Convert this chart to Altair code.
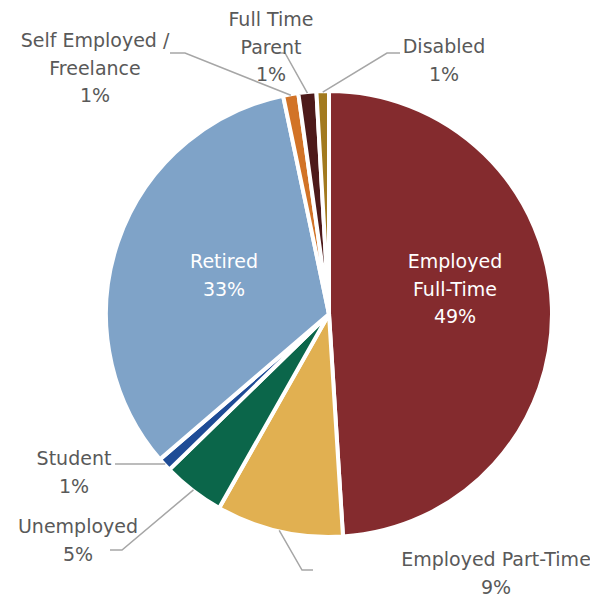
import math
import altair as alt
import pandas as pd

categories = ["Employed Full-Time", "Employed Part-Time", "Unemployed", "Student",
              "Retired", "Self Employed / Freelance", "Full Time Parent", "Disabled"]
values = [49.0, 9.2, 4.5, 1.0, 33.0, 1.1, 1.3, 0.9]
label_texts = ["Employed\nFull-Time\n49%", "Employed Part-Time\n9%", "Unemployed\n5%",
               "Student\n1%", "Retired\n33%", "Self Employed /\nFreelance\n1%",
               "Full Time\nParent\n1%", "Disabled\n1%"]
colors = ["#842B2E", "#E1B051", "#0B664A", "#1F4C96", "#7FA3C8", "#D27327", "#4D1A1A", "#A27A1E"]

# layout (pixels in chart coordinates; label y = first line centre)
W, H = 582, 591
CX, CY, R = 321, 306, 223
label_pos = [(447, 254), (488, 552), (70, 519), (66, 451), (216, 254),
             (87, 33), (263, 12), (436, 39)]
label_color = ["white", "#595959", "#595959", "#595959", "white", "#595959", "#595959", "#595959"]
leader_tail = {
    1: [(294, 562), (305, 562)],
    2: [(114, 542), (102, 542)],
    3: [(107, 456)],
    5: [(177, 45), (162, 45)],
    6: [(277, 45), (267, 45)],
    7: [(379, 45), (392, 45)],
}

df = pd.DataFrame({"category": categories, "value": values, "order": range(len(categories))})

total = sum(values)
cum = 0
mids = []
for v in values:
    mids.append((cum + v / 2) / total * 2 * math.pi)
    cum += v

rows = []
for i, pts in leader_tail.items():
    a = mids[i]
    sx = CX + (R - 1) * math.sin(a)
    sy = CY - (R - 1) * math.cos(a)
    allpts = [(sx, sy)] + pts
    for k, (x, y) in enumerate(allpts):
        rows.append({"line": categories[i], "k": k, "px": x, "py": y})
lines_df = pd.DataFrame(rows)

lab_df = pd.DataFrame({
    "text": label_texts,
    "px": [p[0] for p in label_pos],
    "py": [p[1] for p in label_pos],
    "col": label_color,
})

pie = alt.Chart(df).mark_arc(outerRadius=R, stroke="white", strokeWidth=4).encode(
    theta=alt.Theta("value:Q", stack=True),
    order=alt.Order("order:Q"),
    color=alt.Color("category:N", scale=alt.Scale(domain=categories, range=colors), legend=None),
    x=alt.value(CX),
    y=alt.value(CY),
)

leaders = alt.Chart(lines_df).mark_line(color="#A6A6A6", strokeWidth=1.5).encode(
    x=alt.X("px:Q", scale=None),
    y=alt.Y("py:Q", scale=None),
    detail="line:N",
    order="k:Q",
)

labels = alt.Chart(lab_df).mark_text(
    font="DejaVu Sans", fontSize=19, lineBreak="\n", lineHeight=27.5, align="center", baseline="middle"
).encode(
    x=alt.X("px:Q", scale=None),
    y=alt.Y("py:Q", scale=None),
    text="text:N",
    color=alt.Color("col:N", scale=None),
)

chart = alt.layer(pie, leaders, labels).properties(
    width=W, height=H, padding=0, autosize=alt.AutoSizeParams(type="none")
).configure_view(stroke=None)

chart.save("out.html", embed_options={"renderer": "svg", "actions": False})
